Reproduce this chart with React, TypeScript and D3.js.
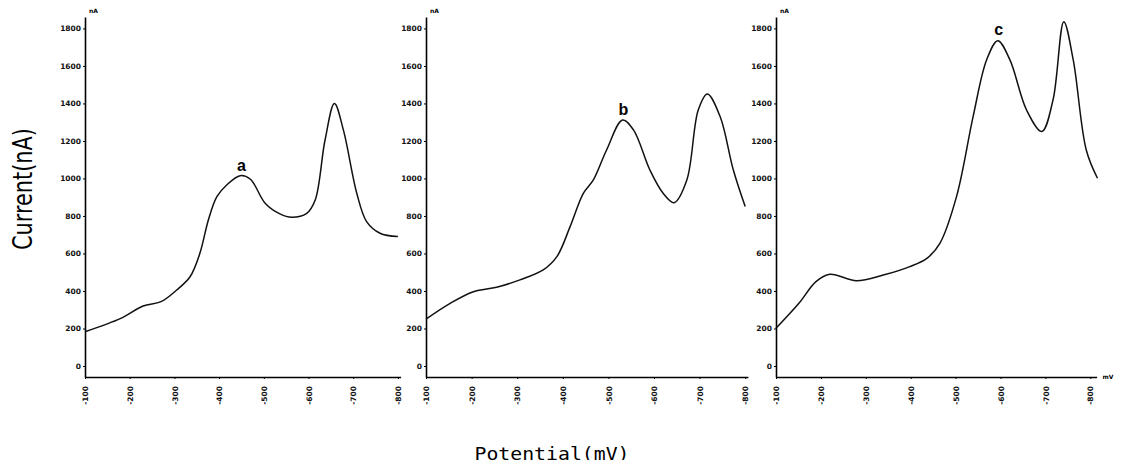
import React, { useRef, useEffect } from "react";
import { select, scaleLinear, axisLeft, axisBottom, line, curveCatmullRom, range } from "d3";

// curve a
const potentialA = [-100, -180, -230, -270, -305, -335, -357, -376, -395, -417, -447, -470, -503, -536, -562, -596, -615, -637, -658, -678, -708, -730, -760, -800];
const currentA = [183, 254, 320, 343, 405, 476, 601, 779, 903, 965, 1015, 996, 868, 811, 793, 814, 885, 1205, 1400, 1259, 921, 770, 708, 690];

// curve b
const potentialB = [-100, -153, -204, -255, -306, -357, -387, -416, -445, -467, -496, -531, -555, -591, -620, -644, -672, -697, -717, -745, -774, -800];
const currentB = [250, 334, 396, 420, 459, 512, 583, 743, 921, 992, 1152, 1312, 1259, 1045, 921, 871, 992, 1365, 1451, 1330, 1045, 850];

// curve c
const potentialC = [-100, -151, -189, -220, -279, -339, -398, -436, -465, -502, -539, -569, -594, -621, -658, -692, -717, -741, -762, -791, -816];
const currentC = [201, 334, 450, 489, 455, 485, 530, 574, 654, 903, 1330, 1632, 1735, 1632, 1365, 1250, 1419, 1836, 1632, 1152, 1001];

const peakLabels = ["a", "b", "c"];
const currentTicks = range(0, 1801, 200);
const potentialTicks = range(-100, -801, -100);

const panels = [
  { xs: potentialA, ys: currentA, label: peakLabels[0], labelAt: -450, labelVal: 1040, left: 85, per100: 44.7, end: -806, mv: false },
  { xs: potentialB, ys: currentB, label: peakLabels[1], labelAt: -533, labelVal: 1340, left: 426, per100: 45.6, end: -806, mv: false },
  { xs: potentialC, ys: currentC, label: peakLabels[2], labelAt: -596, labelVal: 1765, left: 776, per100: 44.9, end: -814, mv: true },
];

function Chart() {
  const svgRef = useRef(null);
  useEffect(() => {
    const svg = select(svgRef.current);
    svg.selectAll("*").remove();
    const y = scaleLinear().domain([-58.7, 1861]).range([377, 17]);

    panels.forEach((p) => {
      const x = scaleLinear()
        .domain([-100, p.end])
        .range([p.left, p.left + ((-100 - p.end) / 100) * p.per100]);
      const g = svg.append("g");

      const yAx = g
        .append("g")
        .attr("transform", `translate(${p.left},0)`)
        .call(axisLeft(y).tickValues(currentTicks).tickSize(2).tickSizeOuter(0).tickPadding(2).tickFormat((d) => String(d)));
      yAx.select(".domain").attr("stroke-width", 1.6);
      yAx.selectAll("text").style("font", "bold 7.5px 'DejaVu Sans'").attr("fill", "#111");

      const xAx = g
        .append("g")
        .attr("transform", "translate(0,377)")
        .call(axisBottom(x).tickValues(potentialTicks).tickSize(2).tickSizeOuter(0).tickFormat((d) => String(d)));
      xAx.select(".domain").attr("stroke-width", 1.6);
      xAx
        .selectAll("text")
        .style("font", "bold 7.5px 'DejaVu Sans'")
        .attr("fill", "#111")
        .attr("transform", "rotate(-90)")
        .attr("x", -9)
        .attr("y", 0)
        .attr("dy", "0.35em")
        .attr("text-anchor", "end");

      g.append("text")
        .attr("x", p.left + 4)
        .attr("y", 13)
        .style("font", "bold 6px 'DejaVu Sans'")
        .text("nA");
      if (p.mv) {
        g.append("text")
          .attr("x", x(p.end) + 6)
          .attr("y", 379)
          .style("font", "bold 6px 'DejaVu Sans'")
          .text("mV");
      }

      const pts = p.xs.map((v, i) => [v, p.ys[i]]);
      g.append("path")
        .datum(pts)
        .attr("fill", "none")
        .attr("stroke", "#111")
        .attr("stroke-width", 1.5)
        .attr("d", line().x((d) => x(d[0])).y((d) => y(d[1])).curve(curveCatmullRom.alpha(0.5)));

      g.append("text")
        .attr("x", x(p.labelAt))
        .attr("y", y(p.labelVal))
        .attr("text-anchor", "middle")
        .style("font", "bold 16px 'Liberation Sans', Arial, sans-serif")
        .text(p.label);
    });

    svg.append("text")
      .attr("transform", "translate(32,189) rotate(-90)")
      .attr("text-anchor", "middle")
      .attr("textLength", 122)
      .attr("lengthAdjust", "spacingAndGlyphs")
      .style("font", "26px 'Liberation Sans Narrow', 'DejaVu Sans Condensed', sans-serif")
      .text("Current(nA)");

    svg.append("text")
      .attr("x", 552)
      .attr("y", 460)
      .attr("text-anchor", "middle")
      .attr("textLength", 155)
      .attr("lengthAdjust", "spacingAndGlyphs")
      .style("font", "18px 'DejaVu Sans Mono', monospace")
      .text("Potential(mV)");
  }, []);

  return <svg ref={svgRef} width={1122} height={468} style={{ display: "block", background: "#fff" }}></svg>;
}

export default function App() {
  return (
    <div style={{ margin: -8 }}>
      <Chart />
    </div>
  );
}
